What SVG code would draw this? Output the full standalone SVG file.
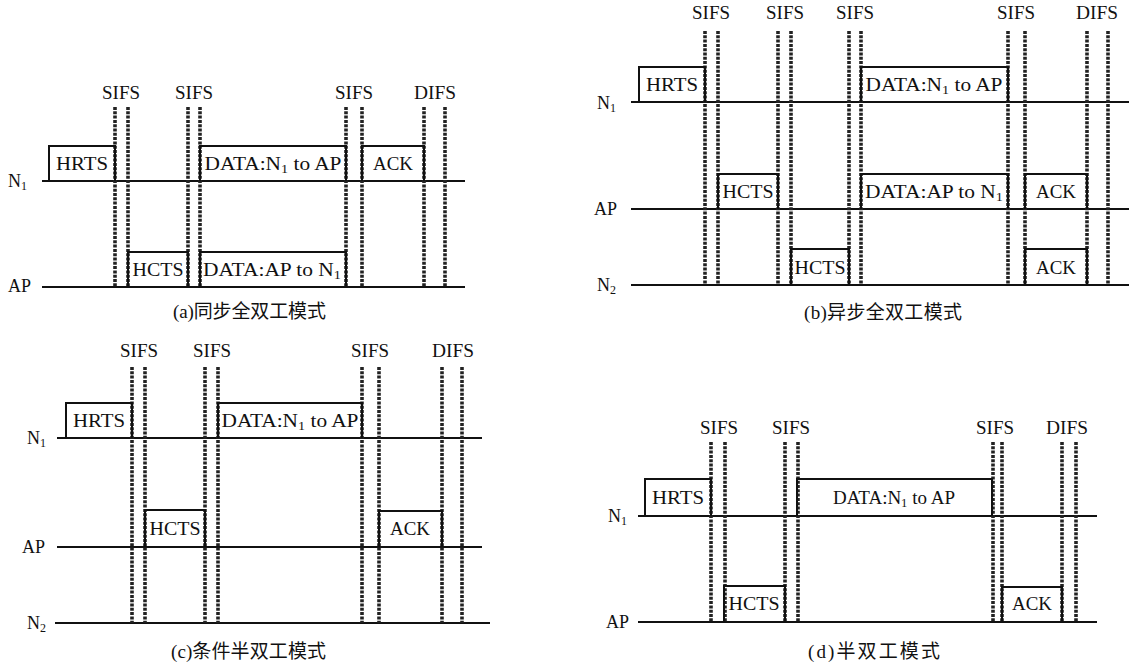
<svg xmlns="http://www.w3.org/2000/svg" width="1129" height="666" viewBox="0 0 1129 666">
<style>
text{font-family:"Liberation Serif","Noto Sans CJK SC",serif;fill:#111;}
.lbl{font-size:18px;text-anchor:middle;}
.row{font-size:18px;}
.cap{font-size:19px;}
.box{fill:none;stroke:#111;stroke-width:2;}
.tl{stroke:#111;stroke-width:2;fill:none;}
.ds{stroke:#222;stroke-width:3.6;stroke-dasharray:3 1.3;fill:none;}
</style>
<rect width="1129" height="666" fill="#fff"/>

<g id="connectors">
  <!-- panel a -->
  <path class="tl" d="M42,181H465M42,287H465"/>
  <path class="ds" d="M115,107V287M128,107V287M188,107V287M200,107V287M346,107V287M362,107V287M424,107V287M445,107V287"/>
  <!-- panel b -->
  <path class="tl" d="M631,102H1129M631,209H1129M631,285H1129"/>
  <path class="ds" d="M705,31V285M718,31V285M778,31V285M791,31V285M849,31V285M861,31V285M1008,31V285M1025,31V285M1087,31V285M1108,31V285"/>
  <!-- panel c -->
  <path class="tl" d="M57,438H482M57,547H482M55,623H490"/>
  <path class="ds" d="M132,367V623M145,367V623M205,367V623M218,367V623M362,367V623M379,367V623M442,367V623M462,367V623"/>
  <!-- panel d -->
  <path class="tl" d="M638,516H1097M638,622H1097"/>
  <path class="ds" d="M711,442V622M725,442V622M785,442V622M798,442V622M993,442V622M1002,442V622M1062,442V622M1076,442V622"/>
</g>

<!-- Panel (a) -->
<g id="a-labels">
  <text class="lbl" x="121" y="99" textLength="38" lengthAdjust="spacingAndGlyphs">SIFS</text>
  <text class="lbl" x="194" y="99" textLength="38" lengthAdjust="spacingAndGlyphs">SIFS</text>
  <text class="lbl" x="354" y="99" textLength="38" lengthAdjust="spacingAndGlyphs">SIFS</text>
  <text class="lbl" x="435" y="99" textLength="42" lengthAdjust="spacingAndGlyphs">DIFS</text>
  <text class="row" x="8" y="187">N<tspan font-size="12" dy="3">1</tspan></text>
  <text class="row" x="8" y="292">AP</text>
  <text class="cap" x="173" y="318" textLength="153" lengthAdjust="spacing">(a)同步全双工模式</text>
</g>
<g id="a-hrts"><path class="box" d="M49,181V146H115V181"/><text class="lbl" x="82" y="170" textLength="52" lengthAdjust="spacingAndGlyphs">HRTS</text></g>
<g id="a-data-n1"><path class="box" d="M200,181V146H346V181"/><text class="lbl" x="273" y="170" textLength="137" lengthAdjust="spacingAndGlyphs">DATA:N<tspan font-size="12" dy="3">1</tspan><tspan dy="-3"> to AP</tspan></text></g>
<g id="a-ack"><path class="box" d="M362,181V146H424V181"/><text class="lbl" x="393" y="170" textLength="40" lengthAdjust="spacingAndGlyphs">ACK</text></g>
<g id="a-hcts"><path class="box" d="M128,287V252H188V287"/><text class="lbl" x="158" y="276" textLength="51" lengthAdjust="spacingAndGlyphs">HCTS</text></g>
<g id="a-data-ap"><path class="box" d="M200,287V252H346V287"/><text class="lbl" x="272" y="276" textLength="138" lengthAdjust="spacingAndGlyphs">DATA:AP to N<tspan font-size="12" dy="3">1</tspan></text></g>

<!-- Panel (b) -->
<g id="b-labels">
  <text class="lbl" x="711" y="19" textLength="38" lengthAdjust="spacingAndGlyphs">SIFS</text>
  <text class="lbl" x="785" y="19" textLength="38" lengthAdjust="spacingAndGlyphs">SIFS</text>
  <text class="lbl" x="855" y="19" textLength="38" lengthAdjust="spacingAndGlyphs">SIFS</text>
  <text class="lbl" x="1016" y="19" textLength="38" lengthAdjust="spacingAndGlyphs">SIFS</text>
  <text class="lbl" x="1097" y="19" textLength="42" lengthAdjust="spacingAndGlyphs">DIFS</text>
  <text class="row" x="597" y="109">N<tspan font-size="12" dy="3">1</tspan></text>
  <text class="row" x="594" y="215">AP</text>
  <text class="row" x="597" y="291">N<tspan font-size="12" dy="3">2</tspan></text>
  <text class="cap" x="804" y="319" textLength="158" lengthAdjust="spacing">(b)异步全双工模式</text>
</g>
<g id="b-hrts"><path class="box" d="M639,102V67H705V102"/><text class="lbl" x="672" y="91" textLength="52" lengthAdjust="spacingAndGlyphs">HRTS</text></g>
<g id="b-data-n1"><path class="box" d="M861,102V67H1008V102"/><text class="lbl" x="934" y="91" textLength="137" lengthAdjust="spacingAndGlyphs">DATA:N<tspan font-size="12" dy="3">1</tspan><tspan dy="-3"> to AP</tspan></text></g>
<g id="b-hcts-ap"><path class="box" d="M718,209V174H778V209"/><text class="lbl" x="748" y="198" textLength="51" lengthAdjust="spacingAndGlyphs">HCTS</text></g>
<g id="b-data-ap"><path class="box" d="M861,209V174H1008V209"/><text class="lbl" x="934" y="198" textLength="138" lengthAdjust="spacingAndGlyphs">DATA:AP to N<tspan font-size="12" dy="3">1</tspan></text></g>
<g id="b-ack-ap"><path class="box" d="M1025,209V174H1087V209"/><text class="lbl" x="1056" y="198" textLength="40" lengthAdjust="spacingAndGlyphs">ACK</text></g>
<g id="b-hcts-n2"><path class="box" d="M791,285V249H849V285"/><text class="lbl" x="820" y="274" textLength="51" lengthAdjust="spacingAndGlyphs">HCTS</text></g>
<g id="b-ack-n2"><path class="box" d="M1025,285V249H1087V285"/><text class="lbl" x="1056" y="274" textLength="40" lengthAdjust="spacingAndGlyphs">ACK</text></g>

<!-- Panel (c) -->
<g id="c-labels">
  <text class="lbl" x="139" y="357" textLength="38" lengthAdjust="spacingAndGlyphs">SIFS</text>
  <text class="lbl" x="212" y="357" textLength="38" lengthAdjust="spacingAndGlyphs">SIFS</text>
  <text class="lbl" x="370" y="357" textLength="38" lengthAdjust="spacingAndGlyphs">SIFS</text>
  <text class="lbl" x="453" y="357" textLength="42" lengthAdjust="spacingAndGlyphs">DIFS</text>
  <text class="row" x="27" y="444">N<tspan font-size="12" dy="3">1</tspan></text>
  <text class="row" x="22" y="553">AP</text>
  <text class="row" x="27" y="629">N<tspan font-size="12" dy="3">2</tspan></text>
  <text class="cap" x="171" y="658" textLength="155" lengthAdjust="spacing">(c)条件半双工模式</text>
</g>
<g id="c-hrts"><path class="box" d="M66,438V403H132V438"/><text class="lbl" x="99" y="427" textLength="52" lengthAdjust="spacingAndGlyphs">HRTS</text></g>
<g id="c-data-n1"><path class="box" d="M218,438V403H362V438"/><text class="lbl" x="290" y="427" textLength="137" lengthAdjust="spacingAndGlyphs">DATA:N<tspan font-size="12" dy="3">1</tspan><tspan dy="-3"> to AP</tspan></text></g>
<g id="c-hcts"><path class="box" d="M145,547V510H205V547"/><text class="lbl" x="175" y="535" textLength="51" lengthAdjust="spacingAndGlyphs">HCTS</text></g>
<g id="c-ack"><path class="box" d="M379,547V511H442V547"/><text class="lbl" x="410" y="535" textLength="40" lengthAdjust="spacingAndGlyphs">ACK</text></g>

<!-- Panel (d) -->
<g id="d-labels">
  <text class="lbl" x="719" y="434" textLength="38" lengthAdjust="spacingAndGlyphs">SIFS</text>
  <text class="lbl" x="791" y="434" textLength="38" lengthAdjust="spacingAndGlyphs">SIFS</text>
  <text class="lbl" x="995" y="434" textLength="38" lengthAdjust="spacingAndGlyphs">SIFS</text>
  <text class="lbl" x="1067" y="434" textLength="42" lengthAdjust="spacingAndGlyphs">DIFS</text>
  <text class="row" x="608" y="522">N<tspan font-size="12" dy="3">1</tspan></text>
  <text class="row" x="606" y="628">AP</text>
  <text class="cap" x="808" y="658" textLength="132" lengthAdjust="spacing">(d)半双工模式</text>
</g>
<g id="d-hrts"><path class="box" d="M645,516V479H711V516"/><text class="lbl" x="678" y="504" textLength="52" lengthAdjust="spacingAndGlyphs">HRTS</text></g>
<g id="d-data-n1"><path class="box" d="M797,516V479H992V516"/><text class="lbl" x="894" y="504" textLength="122" lengthAdjust="spacingAndGlyphs">DATA:N<tspan font-size="12" dy="3">1</tspan><tspan dy="-3"> to AP</tspan></text></g>
<g id="d-hcts"><path class="box" d="M724,622V586H785V622"/><text class="lbl" x="754" y="610" textLength="51" lengthAdjust="spacingAndGlyphs">HCTS</text></g>
<g id="d-ack"><path class="box" d="M1002,622V587H1062V622"/><text class="lbl" x="1032" y="610" textLength="40" lengthAdjust="spacingAndGlyphs">ACK</text></g>
</svg>
